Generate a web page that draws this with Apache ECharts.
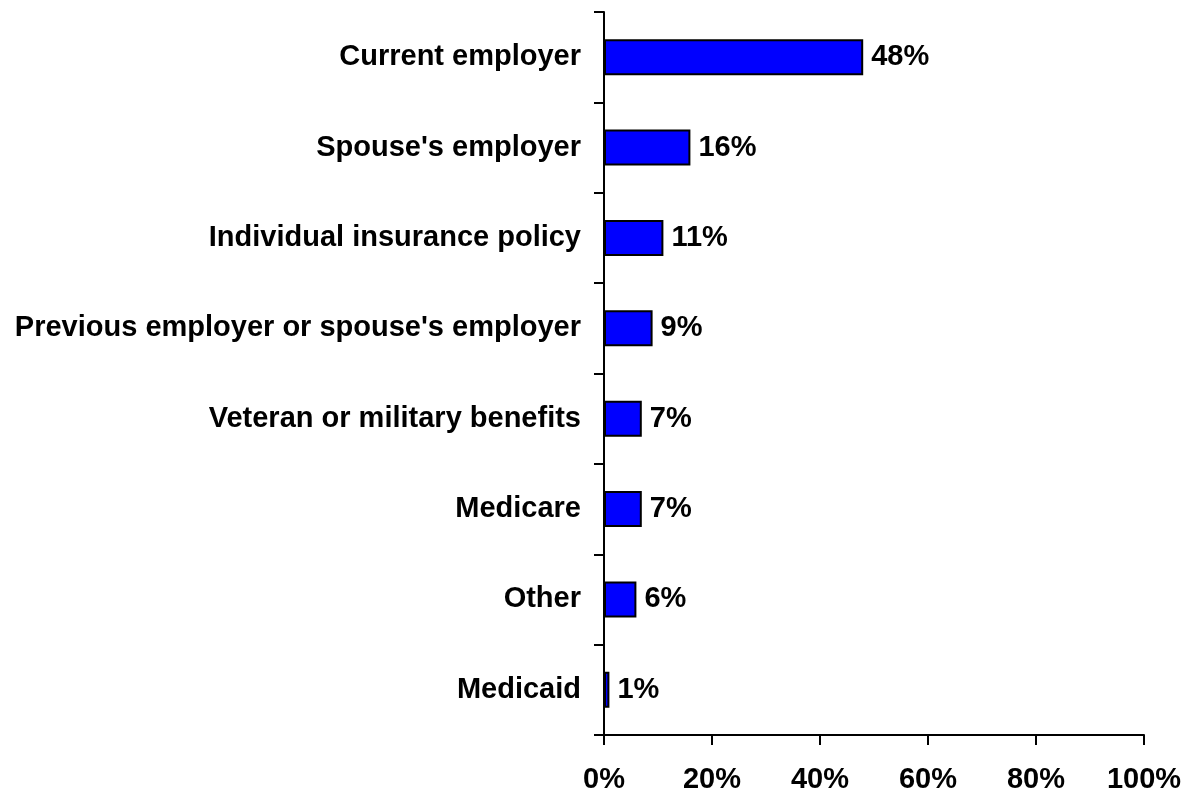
<!DOCTYPE html>
<html><head><meta charset="utf-8">
<script src="https://cdn.jsdelivr.net/npm/echarts@6/dist/echarts.min.js"></script>
<style>html,body{margin:0;padding:0;background:#fff}#c{width:1190px;height:795px}</style>
</head><body><div id="c"></div>
<script>
const categories = ["Current employer","Spouse's employer","Individual insurance policy","Previous employer or spouse's employer","Veteran or military benefits","Medicare","Other","Medicaid"];
const values = [48,16,11,9,7,7,6,1];
const xTicks = [0,20,40,60,80,100];

const chart = echarts.init(document.getElementById('c'));
const font = 'Liberation Sans, Arial, sans-serif';
chart.setOption({
  animation:false,
  grid:{left:604,right:46,top:12,bottom:60,containLabel:false},
  xAxis:{type:'value',min:xTicks[0],max:xTicks[xTicks.length-1],interval:xTicks[1]-xTicks[0],
    axisLine:{show:true,lineStyle:{color:'#000',width:2}},
    axisTick:{show:true,length:10,lineStyle:{color:'#000',width:2}},
    splitLine:{show:false},
    axisLabel:{formatter:v=>v+'%',color:'#000',fontFamily:font,fontWeight:'bold',fontSize:29,margin:30}},
  yAxis:{type:'category',data:categories,inverse:true,
    axisLine:{show:true,lineStyle:{color:'#000',width:2}},
    axisTick:{show:true,length:10,lineStyle:{color:'#000',width:2}},
    axisLabel:{color:'#000',fontFamily:font,fontWeight:'bold',fontSize:29,margin:23}},
  series:[{type:'bar',data:values,barWidth:36,
    itemStyle:{color:'#0000FF',borderColor:'#000',borderWidth:2},
    label:{show:true,position:'right',distance:8,formatter:p=>p.value+'%',color:'#000',fontFamily:font,fontWeight:'bold',fontSize:29}}]
});
</script></body></html>
